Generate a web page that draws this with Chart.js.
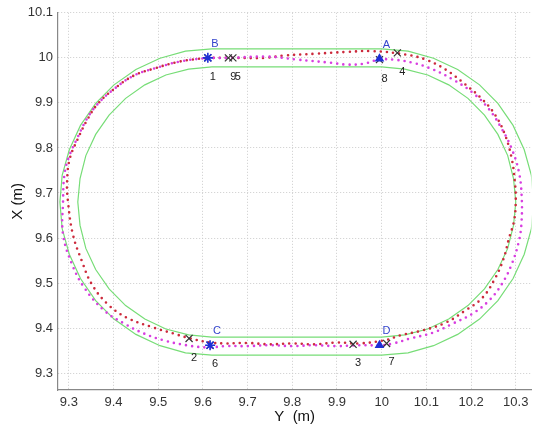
<!DOCTYPE html>
<html>
<head>
<meta charset="utf-8">
<script src="https://cdn.jsdelivr.net/npm/chart.js@4/dist/chart.umd.min.js"></script>
<style>
  html, body { margin: 0; padding: 0; background: #fff; }
  canvas { display: block; }
</style>
</head>
<body>
<canvas id="track" width="538" height="426"></canvas>
<script>
// tick values
const xTicks = [9.3, 9.4, 9.5, 9.6, 9.7, 9.8, 9.9, 10, 10.1, 10.2, 10.3];
const yTicks = [9.3, 9.4, 9.5, 9.6, 9.7, 9.8, 9.9, 10, 10.1];

// green corridor, outer edge (Y, X), left half-circle then right half-circle
const outerY = [9.62, 9.561, 9.504, 9.45, 9.401, 9.36, 9.326, 9.301, 9.285, 9.28,
                9.285, 9.301, 9.326, 9.36, 9.401, 9.45, 9.504, 9.561, 9.62,
                10.0, 10.059, 10.116, 10.17, 10.219, 10.26, 10.294, 10.319, 10.335, 10.34,
                10.335, 10.319, 10.294, 10.26, 10.219, 10.17, 10.116, 10.059, 10.0, 9.62];
const outerX = [10.02, 10.015, 9.999, 9.974, 9.94, 9.899, 9.85, 9.796, 9.739, 9.68,
                9.621, 9.564, 9.51, 9.461, 9.42, 9.386, 9.361, 9.345, 9.34,
                9.34, 9.345, 9.361, 9.386, 9.42, 9.461, 9.51, 9.564, 9.621, 9.68,
                9.739, 9.796, 9.85, 9.899, 9.94, 9.974, 9.999, 10.015, 10.02, 10.02];

// green corridor, inner edge
const innerY = [9.62, 9.568, 9.517, 9.47, 9.427, 9.39, 9.36, 9.338, 9.325, 9.32,
                9.325, 9.338, 9.36, 9.39, 9.427, 9.47, 9.517, 9.568, 9.62,
                10.0, 10.052, 10.103, 10.15, 10.193, 10.23, 10.26, 10.282, 10.295, 10.3,
                10.295, 10.282, 10.26, 10.23, 10.193, 10.15, 10.103, 10.052, 10.0, 9.62];
const innerX = [9.98, 9.975, 9.962, 9.94, 9.91, 9.873, 9.83, 9.783, 9.732, 9.68,
                9.628, 9.577, 9.53, 9.487, 9.45, 9.42, 9.398, 9.385, 9.38,
                9.38, 9.385, 9.398, 9.42, 9.45, 9.487, 9.53, 9.577, 9.628, 9.68,
                9.732, 9.783, 9.83, 9.873, 9.91, 9.94, 9.962, 9.975, 9.98, 9.98];

// red dotted path
const redY = [9.61, 9.66, 9.74, 9.78, 9.85, 9.92, 9.98, 10.055, 10.099, 10.143, 10.187, 10.225, 10.254,
              10.276, 10.291, 10.298, 10.3, 10.296, 10.285, 10.273, 10.254, 10.225, 10.187, 10.143,
              10.092, 10.042, 10.011, 9.95, 9.9, 9.85, 9.8, 9.75, 9.7, 9.65, 9.616, 9.572, 9.534,
              9.49, 9.43, 9.386, 9.351, 9.329, 9.309, 9.298, 9.296, 9.302, 9.32, 9.342, 9.364, 9.4,
              9.446, 9.49, 9.549, 9.61];
const redX = [10.0, 10.0, 10.0, 10.005, 10.009, 10.013, 10.015, 10.007, 9.996, 9.974, 9.941, 9.908, 9.873,
              9.829, 9.776, 9.725, 9.681, 9.637, 9.6, 9.555, 9.511, 9.467, 9.439, 9.412,
              9.395, 9.384, 9.374, 9.366, 9.368, 9.364, 9.366, 9.364, 9.367, 9.366, 9.368, 9.377, 9.388,
              9.401, 9.423, 9.454, 9.498, 9.549, 9.608, 9.681, 9.725, 9.776, 9.82, 9.864, 9.897, 9.93,
              9.961, 9.976, 9.992, 10.0];

// magenta dotted path
const magY = [9.61, 9.66, 9.739, 9.812, 9.887, 9.922, 9.96, 9.993, 10.026, 10.07, 10.115, 10.159, 10.203,
              10.24, 10.269, 10.291, 10.307, 10.313, 10.313, 10.307, 10.291, 10.269, 10.24, 10.203,
              10.159, 10.115, 10.064, 10.026, 9.998, 9.95, 9.9, 9.85, 9.8, 9.75, 9.7, 9.65, 9.611,
              9.563, 9.512, 9.468, 9.424, 9.379, 9.335, 9.307, 9.287, 9.287, 9.29, 9.3, 9.318, 9.34,
              9.364, 9.4, 9.446, 9.49, 9.549, 9.61];
const magX = [10.0, 10.0, 10.003, 9.996, 9.989, 9.985, 9.987, 9.996, 9.996, 9.989, 9.974, 9.952, 9.923,
              9.886, 9.842, 9.798, 9.747, 9.696, 9.637, 9.593, 9.542, 9.498, 9.461, 9.432,
              9.41, 9.39, 9.377, 9.366, 9.362, 9.362, 9.36, 9.362, 9.36, 9.362, 9.36, 9.36, 9.357,
              9.362, 9.373, 9.388, 9.41, 9.439, 9.489, 9.542, 9.608, 9.68, 9.74, 9.78, 9.82, 9.864,
              9.897, 9.93, 9.961, 9.976, 9.992, 10.0];

// waypoints A-D
const waypointNames = ['A', 'B', 'C', 'D'];
const waypointY = [9.995, 9.611, 9.616, 9.995];
const waypointX = [9.998, 10.0, 9.362, 9.362];

// numbered crosses
const crossNames = ['1', '2', '3', '4', '5', '6', '7', '8', '9'];
const crossY = [9.611, 9.569, 9.936, 10.035, 9.667, 9.616, 10.011, 9.995, 9.657];
const crossX = [10.0, 9.377, 9.364, 10.011, 10.0, 9.362, 9.366, 9.996, 10.0];

const pts = (ys, xs) => ys.map((v, i) => ({ x: v, y: xs[i] }));

const FONT = 'Liberation Sans, Arial, sans-serif';

const labelPlugin = {
  id: 'pointLabels',
  afterDatasetsDraw(chart) {
    const { ctx, scales: { x, y } } = chart;
    ctx.save();
    ctx.textAlign = 'center';
    ctx.textBaseline = 'middle';
    ctx.font = '11px ' + FONT;
    ctx.fillStyle = '#3344cc';
    waypointNames.forEach((n, i) => {
      ctx.fillText(n, x.getPixelForValue(waypointY[i]) + 7, y.getPixelForValue(waypointX[i]) - 14);
    });
    ctx.fillStyle = '#222';
    crossNames.forEach((n, i) => {
      ctx.fillText(n, x.getPixelForValue(crossY[i]) + 5, y.getPixelForValue(crossX[i]) + 19);
    });
    ctx.restore();
  }
};

const bgPlugin = {
  id: 'bg',
  beforeDraw(chart) {
    const ctx = chart.ctx;
    ctx.save();
    ctx.fillStyle = '#fff';
    ctx.fillRect(0, 0, chart.width, chart.height);
    ctx.restore();
  }
};

const dotted = (color) => ({
  showLine: true,
  borderColor: color,
  backgroundColor: color,
  borderWidth: 2.6,
  borderDash: [0, 6.2],
  borderCapStyle: 'round',
  pointRadius: 0,
  tension: 0.4
});

const corridor = (ys, xs) => ({
  data: pts(ys, xs),
  showLine: true,
  borderColor: '#77dd77',
  borderWidth: 1.2,
  pointRadius: 0,
  tension: 0,
  order: 4
});

new Chart(document.getElementById('track'), {
  type: 'scatter',
  data: {
    datasets: [
      {
        data: pts(waypointY, waypointX),
        pointStyle: ['triangle', 'star', 'star', 'triangle'],
        pointRadius: [4, 5, 5, 4],
        borderColor: '#1f2fd6',
        backgroundColor: '#1f2fd6',
        borderWidth: 1.6,
        order: 0
      },
      {
        data: pts(crossY, crossX),
        pointStyle: 'crossRot',
        pointRadius: 5,
        borderColor: '#333',
        borderWidth: 1.2,
        order: 1
      },
      Object.assign({ data: pts(magY, magX), order: 2 }, dotted('#d83ee0')),
      Object.assign({ data: pts(redY, redX), order: 3 }, dotted('#cc2a3c')),
      corridor(outerY, outerX),
      corridor(innerY, innerX)
    ]
  },
  options: {
    responsive: false,
    animation: false,
    events: [],
    layout: { padding: { top: 10, right: 0, bottom: 0, left: 0 } },
    plugins: { legend: { display: false }, tooltip: { enabled: false } },
    scales: {
      x: {
        type: 'linear',
        min: 9.2757,
        max: 10.335,
        afterBuildTicks: (axis) => { axis.ticks = xTicks.map(v => ({ value: v })); },
        afterFit: (axis) => { axis.height = 36; },
        ticks: {
          autoSkip: false, maxRotation: 0, padding: 5,
          color: '#333', font: { family: FONT, size: 13 },
          callback: (v) => String(v)
        },
        grid: { color: '#cccccc', drawTicks: false },
        border: { display: true, color: '#888', width: 1.2, dash: [1, 2] },
        title: {
          display: true, text: 'Y  (m)', color: '#111',
          font: { family: FONT, size: 15 }, padding: { top: 0, bottom: 0 }
        }
      },
      y: {
        type: 'linear',
        min: 9.2626,
        max: 10.1,
        afterBuildTicks: (axis) => { axis.ticks = yTicks.map(v => ({ value: v })); },
        afterFit: (axis) => { axis.width = 58; },
        ticks: {
          autoSkip: false, padding: 5,
          color: '#333', font: { family: FONT, size: 13 },
          callback: (v) => String(v)
        },
        grid: { color: '#cccccc', drawTicks: false },
        border: { display: true, color: '#888', width: 1.2, dash: [1, 2] },
        title: {
          display: true, text: 'X (m)', color: '#111',
          font: { family: FONT, size: 15 }, padding: { top: 9, bottom: 0 }
        }
      }
    }
  },
  plugins: [bgPlugin, labelPlugin]
});
</script>
</body>
</html>
